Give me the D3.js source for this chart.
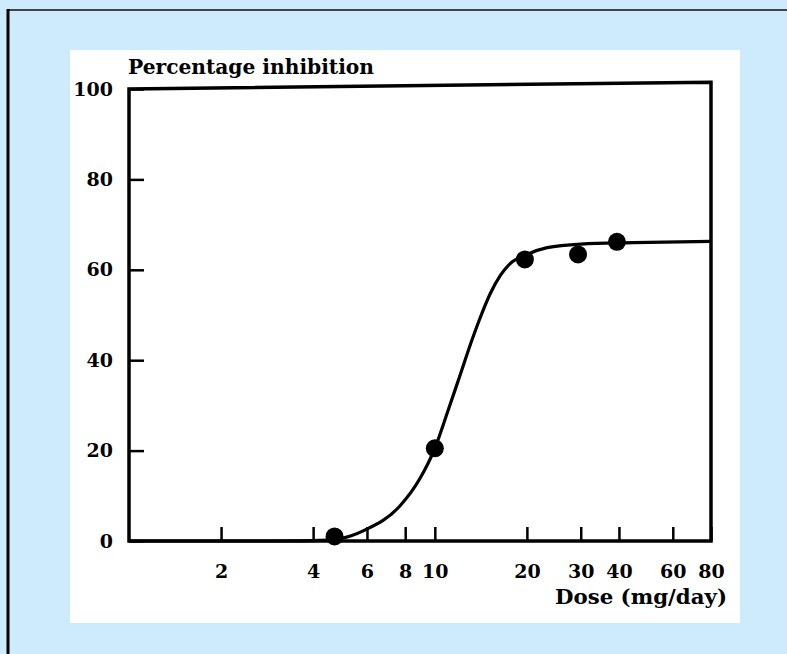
<!DOCTYPE html>
<html>
<head>
<meta charset="utf-8">
<title>Percentage inhibition</title>
<script src="https://d3js.org/d3.v7.min.js"></script>
<style>
  body { margin: 0; }
  .lbl { font-family: "DejaVu Serif", serif; font-weight: bold; fill: #000; }
</style>
</head>
<body>
<script>
  // measured points (dose mg/day, % inhibition)
  let doses = [4.7, 10, 19.7, 29.4, 39.4];
  let inhibition = [1, 20.5, 62.3, 63.4, 66.2];
  // fitted curve
  let curveDose = [1, 3, 4.5, 5.3, 5.9, 7.7, 8.9, 10, 11, 12, 13.2, 14, 15.2, 16.4, 17.6, 20, 23.3, 30, 44.5, 80];
  let curvePct = [0, 0, 0.2, 1.1, 2.4, 7.8, 13.6, 20.5, 28.5, 36, 44.3, 49, 54.8, 58.8, 61.3, 63.4, 64.9, 65.7, 66, 66.3];
  let xTicks = [2, 4, 6, 8, 10, 20, 30, 40, 60, 80];
  let yTicks = [0, 20, 40, 60, 80, 100];

  let width = 787, height = 654;
  let svg = d3.select('body').append('svg').attr('width', width).attr('height', height);

  // page background, white panel and the two border lines
  svg.append('rect').attr('width', width).attr('height', height).attr('fill', '#cdebfc');
  svg.append('rect').attr('x', 70).attr('y', 50).attr('width', 670).attr('height', 573).attr('fill', '#fff');
  svg.append('line').attr('x1', 7).attr('x2', width).attr('y1', 10).attr('y2', 10)
     .attr('stroke', '#444').attr('stroke-width', 2);
  svg.append('line').attr('x1', 8).attr('x2', 8).attr('y1', 9).attr('y2', height)
     .attr('stroke', '#000').attr('stroke-width', 3);

  let x = d3.scaleLog().domain([1, 80]).range([129, 711]);
  let y = d3.scaleLinear().domain([0, 100]).range([541, 89]);

  // axes: ticks pointing inward
  let gx = svg.append('g').attr('transform', 'translate(0,' + y(0) + ')')
    .call(d3.axisBottom(x).tickValues(xTicks).tickFormat(d3.format('d')).tickSize(-14).tickPadding(24));
  let gy = svg.append('g').attr('transform', 'translate(' + x(1) + ',0)')
    .call(d3.axisLeft(y).tickValues(yTicks).tickSize(-15).tickPadding(16));
  [gx, gy].forEach(g => {
    g.select('.domain').remove();
    g.selectAll('line').attr('stroke', '#000').attr('stroke-width', 2.5);
    g.selectAll('text').attr('class', 'lbl').style('font-size', '19px').attr('font-family', null);
  });

  // frame
  let frame = d3.path();
  frame.moveTo(x(80), y(101.5));
  frame.lineTo(x(1), y(100));
  frame.lineTo(x(1), y(0));
  frame.lineTo(x(80), y(0));
  frame.closePath();
  svg.append('path').attr('d', frame.toString()).attr('fill', 'none')
     .attr('stroke', '#000').attr('stroke-width', 3.5).attr('stroke-linejoin', 'miter');

  // curve
  let line = d3.line().x(d => x(d[0])).y(d => y(d[1])).curve(d3.curveMonotoneX);
  svg.append('path').datum(d3.zip(curveDose, curvePct)).attr('d', line)
     .attr('fill', 'none').attr('stroke', '#000').attr('stroke-width', 3.2);

  // points
  svg.append('g').selectAll('circle').data(d3.zip(doses, inhibition)).enter().append('circle')
     .attr('cx', d => x(d[0])).attr('cy', d => y(d[1])).attr('r', 9).attr('fill', '#000');

  // titles
  svg.append('text').attr('class', 'lbl').attr('x', 128).attr('y', 74)
     .style('font-size', '20px').attr('textLength', 246).attr('lengthAdjust', 'spacingAndGlyphs')
     .text('Percentage inhibition');
  svg.append('text').attr('class', 'lbl').attr('x', 727).attr('y', 604).attr('text-anchor', 'end')
     .style('font-size', '21px').attr('textLength', 172).attr('lengthAdjust', 'spacingAndGlyphs')
     .text('Dose (mg/day)');
</script>
</body>
</html>
